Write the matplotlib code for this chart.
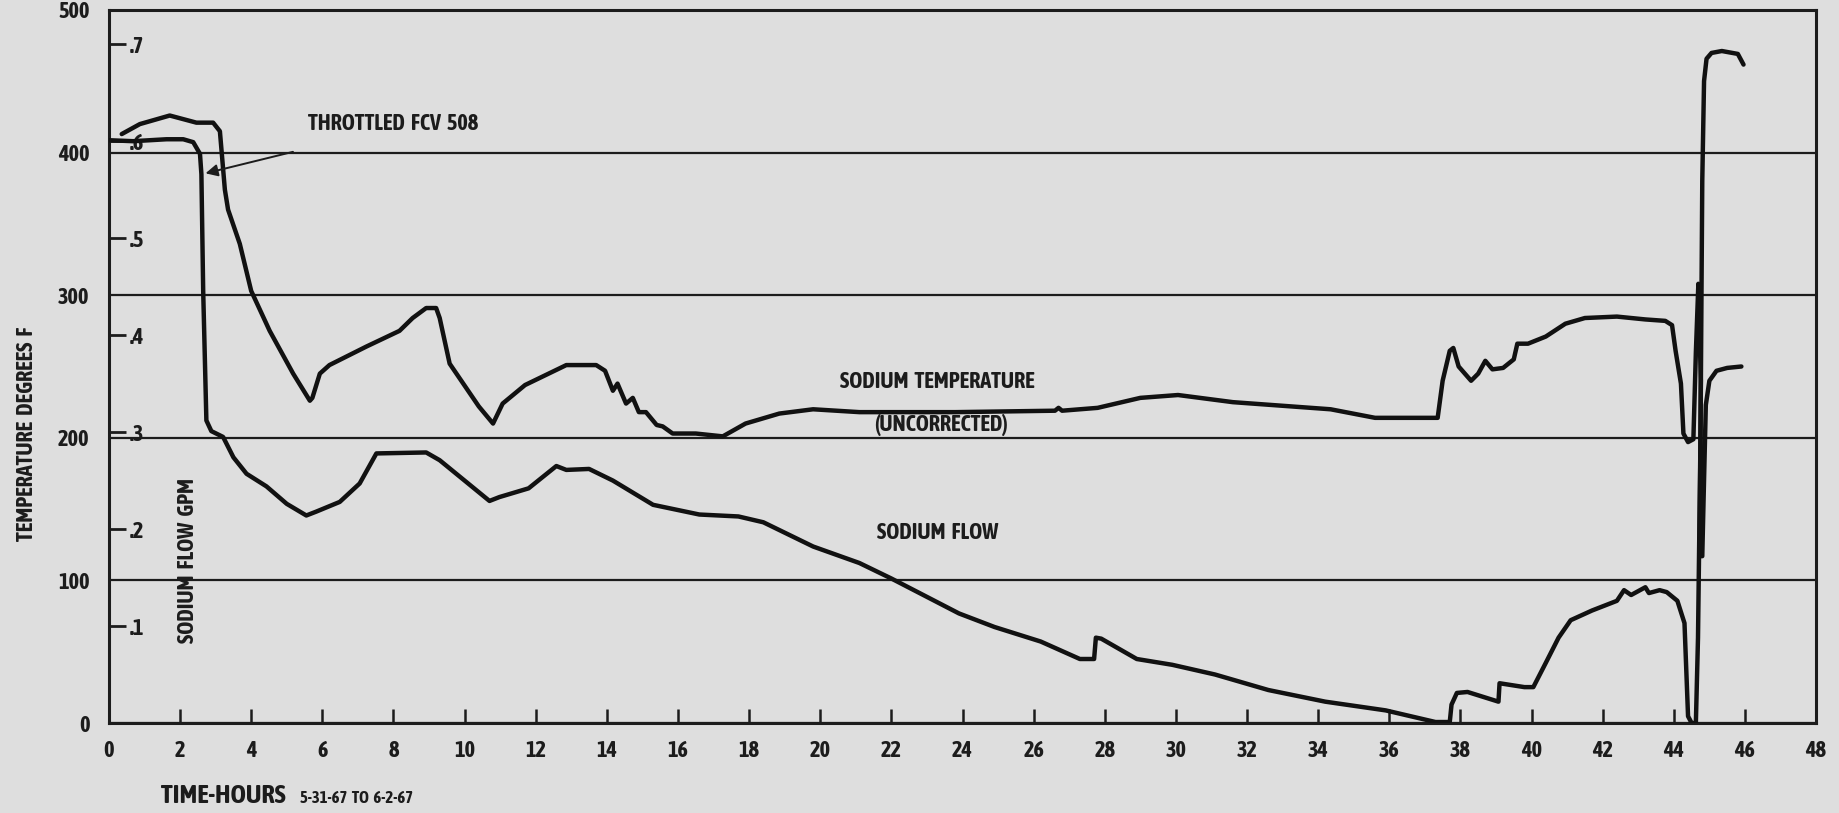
import matplotlib
matplotlib.use('Agg')
import matplotlib.pyplot as plt

# sodium temperature, deg F
temp_hours = [0.36, 0.87, 1.71, 2.46, 2.93, 3.12, 3.26, 3.35, 3.68, 4.0,
              4.52, 5.18, 5.65, 5.72, 5.93, 6.2, 7.24, 8.17, 8.54, 8.92,
              9.2, 9.3, 9.58, 10.4, 10.8, 11.07, 11.7, 12.86, 13.7, 13.95,
              14.17, 14.3, 14.54, 14.73, 14.9, 15.1, 15.4, 15.57, 15.85, 16.5,
              17.26, 17.9, 18.85, 19.8, 21.1, 23.8, 26.6, 26.7, 26.8, 27.8,
              29.0, 30.06, 31.6, 34.35, 35.6, 37.36, 37.5, 37.7, 37.8, 37.95,
              38.3, 38.5, 38.7, 38.9, 39.2, 39.5, 39.6, 39.9, 40.4, 40.95,
              41.5, 42.4, 43.2, 43.76, 43.95, 44.05, 44.2, 44.27, 44.4, 44.55,
              44.62, 44.69, 44.76, 44.74, 44.72, 44.80, 44.84, 44.90, 45.0, 45.2,
              45.5, 45.9]
temp_values = [413, 420, 426, 421, 421, 415, 374, 360, 336, 303,
               275, 245, 226, 228, 245, 251, 264, 275, 284, 291,
               291, 284, 252, 222, 210, 224, 237, 251, 251, 247,
               233, 238, 224, 228, 218, 218, 209, 208, 203, 203,
               201, 210, 217, 220, 218, 218, 219, 221, 219, 221,
               228, 230, 225, 220, 214, 214, 240, 261, 263, 250,
               240, 245, 254, 248, 249, 255, 266, 266, 271, 280,
               284, 285, 283, 282, 279, 261, 238, 203, 197, 199,
               260, 308, 240, 170, 117, 117, 160, 223, 240, 247,
               249, 250]

# sodium flow, gpm
flow_hours = [0.0, 0.68, 1.62, 2.09, 2.37, 2.56, 2.6, 2.65, 2.74, 2.88,
              3.21, 3.5, 3.87, 4.43, 5.0, 5.55, 5.83, 6.49, 7.05, 7.52,
              8.92, 9.3, 10.7, 10.98, 11.8, 12.58, 12.86, 13.5, 14.17, 15.3,
              16.6, 17.7, 18.4, 19.8, 21.1, 22.0, 23.9, 24.9, 26.2, 27.3,
              27.7, 27.75, 27.9, 28.9, 29.9, 31.1, 32.6, 34.2, 35.9, 37.3,
              37.7, 37.75, 37.9, 38.2, 39.07, 39.1, 39.8, 40.05, 40.4, 40.76,
              41.1, 41.7, 42.4, 42.6, 42.8, 43.2, 43.3, 43.6, 43.8, 44.1,
              44.3, 44.4, 44.5, 44.62, 44.68, 44.75, 44.8, 44.85, 44.92, 45.06,
              45.35, 45.8, 45.96]
flow_values = [0.601, 0.600, 0.602, 0.602, 0.599, 0.587, 0.566, 0.446, 0.312, 0.301,
               0.295, 0.274, 0.257, 0.244, 0.226, 0.214, 0.218, 0.228, 0.247, 0.278,
               0.279, 0.271, 0.229, 0.233, 0.242, 0.265, 0.261, 0.262, 0.250, 0.225,
               0.215, 0.213, 0.207, 0.182, 0.165, 0.149, 0.113, 0.099, 0.084, 0.066,
               0.066, 0.088, 0.087, 0.066, 0.060, 0.050, 0.034, 0.022, 0.013, 0.001,
               0.001, 0.019, 0.031, 0.032, 0.022, 0.041, 0.037, 0.037, 0.062, 0.088,
               0.106, 0.116, 0.126, 0.137, 0.132, 0.140, 0.134, 0.137, 0.135, 0.126,
               0.103, 0.007, 0.0, 0.0, 0.088, 0.294, 0.559, 0.662, 0.685, 0.691,
               0.693, 0.690, 0.679]

x_ticks = list(range(0, 49, 2))
y_ticks = [0, 100, 200, 300, 400, 500]
flow_ticks = [0.1, 0.2, 0.3, 0.4, 0.5, 0.6, 0.7]
flow_labels = ['.1', '.2', '.3', '.4', '.5', '.6', '.7']

bg = '#dedede'
ink = '#1c1c1c'
fam = ['Asap Condensed', 'Archivo Narrow', 'DejaVu Sans']
plt.rcParams['font.family'] = fam
plt.rcParams['font.weight'] = 'bold'

fig = plt.figure(figsize=(18.4, 8.13), dpi=100, facecolor=bg)
ax = fig.add_axes([0.0592, 0.1107, 0.9278, 0.877])
ax.set_facecolor(bg)

ax.set_xlim(0, 48)
ax.set_ylim(0, 500)

# grid: heavy lines every 4 hours / 100 deg
ax.set_xticks(x_ticks)
ax.set_xticklabels([str(v) for v in x_ticks], fontsize=16, color=ink)
ax.set_xticks(list(range(4, 48, 4)), minor=True)
ax.set_yticks(y_ticks)
ax.set_yticklabels([str(v) for v in y_ticks], fontsize=16, color=ink)
ax.tick_params(axis='x', which='major', direction='in', length=10, width=1.8,
               color=ink, pad=12)
ax.tick_params(axis='x', which='minor', length=0)
ax.tick_params(axis='y', length=0, pad=14)
ax.grid(True, axis='x', which='minor', color=ink, lw=1.6)
ax.grid(True, axis='y', which='major', color=ink, lw=1.6)
for s in ax.spines.values():
    s.set_color(ink)
    s.set_linewidth(2.2)

ax.plot(temp_hours, temp_values, color='#111111', lw=3.2,
        solid_joinstyle='round', solid_capstyle='round', zorder=3)

# flow on its own scale, ticks inside the left edge
ax2 = ax.twinx()
ax2.set_ylim(0, 500 / 680)
ax2.plot(flow_hours, flow_values, color='#111111', lw=3.2,
         solid_joinstyle='round', solid_capstyle='round', zorder=3)
ax2.yaxis.set_ticks_position('left')
ax2.set_yticks(flow_ticks)
ax2.set_yticklabels(flow_labels, fontsize=16, color=ink, ha='left')
ax2.tick_params(axis='y', direction='in', length=12, width=2, color=ink, pad=-15)
for s in ax2.spines.values():
    s.set_visible(False)

# annotations
ax.annotate('', xy=(2.64, 385), xytext=(5.25, 401),
            arrowprops=dict(arrowstyle='-|>', color=ink, lw=1.4,
                            mutation_scale=18))
ax.text(5.6, 420, 'THROTTLED  FCV  508', fontsize=16, color=ink,
        ha='left', va='center')
ax.text(23.3, 239, 'SODIUM  TEMPERATURE', fontsize=16, color=ink,
        ha='center', va='center')
ax.text(23.4, 209, '(UNCORRECTED)', fontsize=16, color=ink,
        ha='center', va='center')
ax.text(23.3, 133, 'SODIUM  FLOW', fontsize=16, color=ink,
        ha='center', va='center')
ax.text(2.22, 114, 'SODIUM  FLOW  GPM', fontsize=16, color=ink,
        ha='center', va='center', rotation=90)

fig.text(0.0147, 0.467, 'TEMPERATURE  DEGREES  F', fontsize=16, color=ink,
         ha='center', va='center', rotation=90)
fig.text(0.0875, 0.012, 'TIME-HOURS', fontsize=19, color=ink,
         ha='left', va='baseline')
fig.text(0.163, 0.012, '5-31-67  TO  6-2-67', fontsize=12, color=ink,
         ha='left', va='baseline')

fig.savefig('out.png', dpi=100, facecolor=bg)
